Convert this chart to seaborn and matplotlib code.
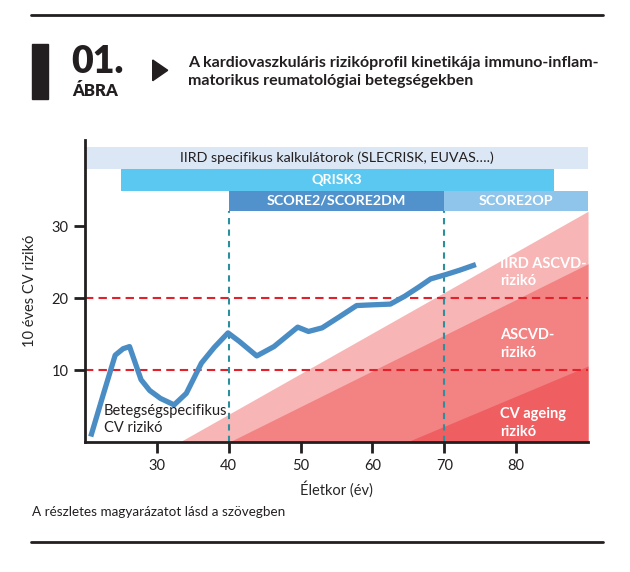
import numpy as np
import pandas as pd
import matplotlib
matplotlib.use('Agg')
import matplotlib.pyplot as plt
import seaborn as sns
from matplotlib.patches import Rectangle, Polygon
from matplotlib.lines import Line2D

# curve: disease specific CV risk vs age
ages = [20.8, 22.5, 24.2, 25.3, 26.2, 27.0, 27.8, 29.0, 30.5, 32.4, 34.1, 36.2, 38.0,
        39.9, 41.5, 43.9, 46.3, 49.6, 51.1, 53.0, 55.5, 57.8, 60.0, 62.5, 64.5, 66.5,
        68.1, 70.2, 72.1, 74.4]
risk = [0.8, 6.5, 12.1, 13.0, 13.3, 11.0, 8.7, 7.2, 6.1, 5.2, 6.8, 11.0, 13.2,
        15.2, 14.0, 12.0, 13.3, 16.0, 15.4, 15.9, 17.5, 19.0, 19.1, 19.2, 20.3, 21.6,
        22.7, 23.3, 23.9, 24.7]

# risk bands (start age on x axis, value reached at age 90)
band_names = ['IIRD ASCVD-\nrizikó', 'ASCVD-\nrizikó', 'CV ageing\nrizikó']
band_start = [33.1, 40.0, 64.7]
band_end = [32.1, 24.8, 10.6]
band_colors = ['#f7b5b5', '#f38282', '#ef5e61']
band_label_y = [25.8, 15.9, 4.9]

# calculators (age ranges)
calc_names = ['IIRD specifikus kalkulátorok (SLECRISK, EUVAS….)', 'QRISK3',
              'SCORE2/SCORE2DM', 'SCORE2OP']
calc_start = [20, 25, 40, 70]
calc_end = [90, 85.2, 70, 90]
calc_row = [0, 1, 2, 2]
calc_colors = ['#dbe7f4', '#5ac8f0', '#5192cd', '#8fc5ea']
calc_text_colors = ['#231f20', 'white', 'white', 'white']

thresholds = [10, 20]
score_cuts = [40, 70]
xticks = [30, 40, 50, 60, 70, 80]
yticks = [10, 20, 30]

sns.set_theme(style='ticks')
plt.rcParams['font.family'] = ['Lato', 'DejaVu Sans']
plt.rcParams['text.color'] = '#231f20'

W, H = 630, 572
fig = plt.figure(figsize=(W / 100, H / 100), dpi=100)


def fx(px):
    return px / W


def fy(py):
    return 1 - py / H


ax = fig.add_axes([fx(85), fy(442.3), fx(588) - fx(85), fy(140) - fy(442.3)])
ax.set_xlim(20, 90)
ax.set_ylim(0, 42)

# bands
xs = np.linspace(20, 90, 400)
for start, end, col in zip(band_start, band_end, band_colors):
    yv = np.where(xs >= start, (xs - start) / (90 - start) * end, np.nan)
    ax.fill_between(xs, 0, yv, color=col, linewidth=0, zorder=1)
for name, yl in zip(band_names, band_label_y):
    ax.text(77.8, yl, name, color='white', fontsize=10.5, fontweight='bold',
            va='top', ha='left', linespacing=1.35, zorder=3)

# threshold lines
for t in thresholds:
    ax.axhline(t, color='#e4202a', linestyle=(0, (4, 2.5)), linewidth=1.5, zorder=2)

# calculator bars
row_top = [41.0, 38.0, 34.95]
row_bot = [38.0, 34.95, 32.1]
for name, s, e, r, col, tc in zip(calc_names, calc_start, calc_end, calc_row,
                                  calc_colors, calc_text_colors):
    ax.barh((row_top[r] + row_bot[r]) / 2, e - s, left=s,
            height=row_top[r] - row_bot[r], color=col, linewidth=0, zorder=2)
    ax.text((s + e) / 2, (row_top[r] + row_bot[r]) / 2, name, ha='center',
            va='center', color=tc, fontsize=10.3,
            fontweight='normal' if r == 0 else 'bold', zorder=3)

# SCORE2 age limits
for c in score_cuts:
    ax.vlines(c, 0, row_bot[2], color='#2b8f9d', linestyle=(0, (3, 2.5)),
              linewidth=1.5, zorder=2)

df = pd.DataFrame({'age': ages, 'risk': risk})
sns.lineplot(data=df, x='age', y='risk', ax=ax, color='#4a8dc5', linewidth=3.8,
             solid_capstyle='butt', solid_joinstyle='round', zorder=4)

ax.text(22.6, 5.3, 'Betegségspecifikus\nCV rizikó', fontsize=10.5, va='top',
        ha='left', linespacing=1.25, zorder=5)

ax.set_xticks(xticks)
ax.set_yticks(yticks)
ax.tick_params(axis='both', length=8, width=2, color='#231f20', labelsize=10.5,
               labelcolor='#231f20', pad=4)
ax.set_xlabel('Életkor (év)', fontsize=10.5, labelpad=6)
ax.set_ylabel('10 éves CV rizikó', fontsize=10.5, labelpad=10)
sns.despine(ax=ax)
for sp in ['left', 'bottom']:
    ax.spines[sp].set_linewidth(2)
    ax.spines[sp].set_color('#231f20')
ax.spines['left'].set_zorder(6)
ax.spines['bottom'].set_zorder(6)

# header
fig.add_artist(Line2D([fx(31), fx(603)], [fy(14.7), fy(14.7)], color='#231f20',
                      linewidth=2))
fig.add_artist(Line2D([fx(31), fx(603)], [fy(541.7), fy(541.7)], color='#231f20',
                      linewidth=2))
fig.add_artist(Rectangle((fx(32), fy(99)), fx(47.7) - fx(32), fy(44) - fy(99),
                         color='#231f20', transform=fig.transFigure))
fig.add_artist(Polygon([[fx(152.7), fy(60)], [fx(152.7), fy(80.7)],
                        [fx(167.7), fy(70.3)]], closed=True, color='#231f20',
                       transform=fig.transFigure))
fig.text(fx(71), fy(73), '01.', fontsize=27, fontweight='heavy', ha='left',
         va='baseline')
fig.text(fx(72), fy(96), 'ÁBRA', fontsize=12, fontweight='heavy', ha='left',
         va='baseline')
fig.text(fx(188), fy(66.5), 'A kardiovaszkuláris rizikóprofil kinetikája immuno-inflam-',
         fontsize=11.5, fontweight='bold', ha='left', va='baseline')
fig.text(fx(188), fy(84.5), 'matorikus reumatológiai betegségekben',
         fontsize=11.5, fontweight='bold', ha='left', va='baseline')
fig.text(fx(32), fy(516), 'A részletes magyarázatot lásd a szövegben',
         fontsize=9.7, ha='left', va='baseline')

fig.savefig('out.png', dpi=100)
